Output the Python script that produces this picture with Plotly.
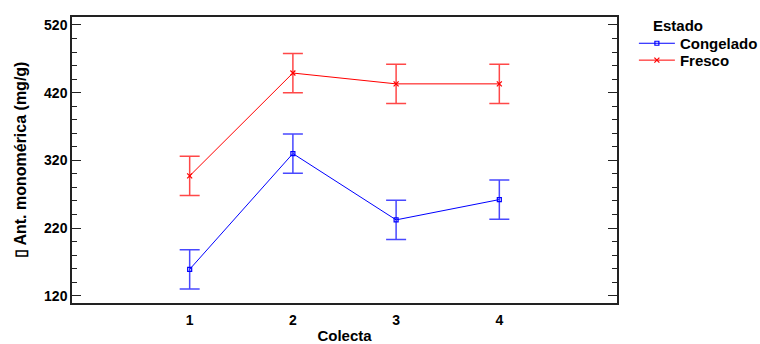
import plotly.graph_objects as go

colecta = [1, 2, 3, 4]
congelado = [159, 330, 232, 262]
congelado_err = [29, 29, 29, 29]
fresco = [297, 449, 433, 433]
fresco_err = [29, 29, 29, 29]
yticks = [120, 220, 320, 420, 520]

FONT = "Liberation Sans"

fig = go.Figure()
fig.add_trace(go.Scatter(
    x=colecta, y=congelado, name="Congelado", mode="lines+markers",
    line=dict(color="rgb(0,0,255)", width=1),
    marker=dict(symbol="square-open", size=4, color="rgb(0,0,255)", line=dict(width=1.2)),
    error_y=dict(type="data", array=congelado_err, visible=True,
                 color="rgba(40,40,255,0.85)", thickness=1.5, width=10),
    legend="legend",
))
fig.add_trace(go.Scatter(
    x=colecta, y=fresco, name="Fresco", mode="lines+markers",
    line=dict(color="rgb(255,0,0)", width=1),
    marker=dict(symbol="x-thin-open", size=5, color="rgb(255,0,0)", line=dict(width=1.2, color="rgb(255,0,0)")),
    error_y=dict(type="data", array=fresco_err, visible=True,
                 color="rgba(255,40,40,0.85)", thickness=1.5, width=10),
    legend="legend2",
))

legend_common = dict(xanchor="left", yanchor="top",
                     font=dict(family=FONT, size=15, color="black", weight="bold"),
                     bgcolor="rgba(0,0,0,0)", tracegroupgap=0, itemwidth=36)

fig.update_layout(
    width=760, height=344,
    margin=dict(l=72, r=143, t=17, b=41, autoexpand=False),
    paper_bgcolor="white", plot_bgcolor="white",
    font=dict(family=FONT, size=14, color="black"),
    showlegend=True,
    legend=dict(x=1.031, y=0.965, **legend_common),
    legend2=dict(x=1.031, y=0.906, **legend_common),
    annotations=[dict(text="<b>Estado</b>", x=1.063, xref="paper", xanchor="left",
                      y=0.972, yref="paper", yanchor="middle", showarrow=False,
                      font=dict(family=FONT, size=15, color="black"))],
)
fig.update_xaxes(
    range=[-0.14, 5.14], tickvals=colecta, ticktext=[str(c) for c in colecta],
    showgrid=False, zeroline=False, showline=True, linecolor="#222", linewidth=1.5,
    mirror=True, ticks="", automargin=False, ticklabelstandoff=3,
    tickfont=dict(family=FONT, size=14, color="black", weight="bold"),
    title=dict(text="<b>Colecta</b>", font=dict(family=FONT, size=15), standoff=9),
)
fig.update_yaxes(
    range=[109.2, 531.8], tickvals=yticks, ticktext=[str(v) for v in yticks],
    showgrid=False, zeroline=False, showline=True, linecolor="#222", linewidth=1.5,
    mirror="ticks", ticks="inside", ticklen=9, tickwidth=1.2, tickcolor="#222",
    minor=dict(ticks="inside", dtick=20, tick0=120, ticklen=5, tickwidth=1.2, tickcolor="#222", showgrid=False),
    automargin=False,
    tickfont=dict(family=FONT, size=14, color="black", weight="bold"),
    title=dict(text="<b>▯ Ant. monomérica (mg/g)</b>", font=dict(family=FONT, size=16), standoff=13),
)

fig.write_html("out.html")
